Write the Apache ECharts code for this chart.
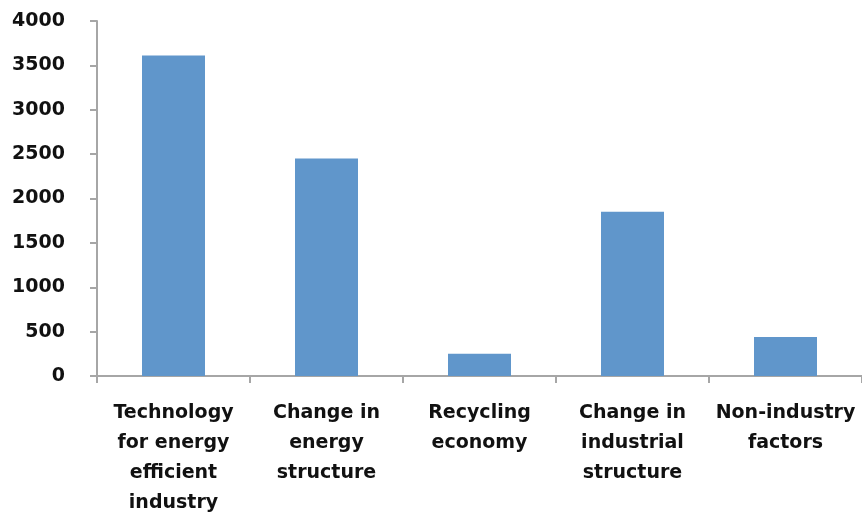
<!DOCTYPE html>
<html>
<head>
<meta charset="utf-8">
<script src="https://cdn.jsdelivr.net/npm/echarts@6/dist/echarts.min.js"></script>
<style>
html,body{margin:0;padding:0;background:#fff;}
#chart{width:862px;height:521px;}
</style>
</head>
<body>
<div id="chart"></div>
<script>
const categories = [
  "Technology\nfor energy\nefficient\nindustry",
  "Change in\nenergy\nstructure",
  "Recycling\neconomy",
  "Change in\nindustrial\nstructure",
  "Non-industry\nfactors"
];
const values = [3610, 2450, 250, 1850, 440];
const yTicks = { min: 0, max: 4000, interval: 500 };

const chart = echarts.init(document.getElementById('chart'));
const axisColor = '#a6a6a6';
const font = 'DejaVu Sans';
chart.setOption({
  animation: false,
  grid: { left: 97, right: -3, top: 21, bottom: 145 },
  xAxis: {
    type: 'category',
    data: categories,
    axisLine: { lineStyle: { color: axisColor, width: 2 } },
    axisTick: { show: true, length: 7, lineStyle: { color: axisColor, width: 2 } },
    axisLabel: {
      color: '#111', fontFamily: font, fontWeight: 'bold', fontSize: 19,
      lineHeight: 30, margin: 22, interval: 0, align: 'center'
    }
  },
  yAxis: {
    type: 'value',
    min: yTicks.min, max: yTicks.max, interval: yTicks.interval,
    axisLine: { show: true, lineStyle: { color: axisColor, width: 2 } },
    axisTick: { show: true, length: 7, lineStyle: { color: axisColor, width: 2 } },
    splitLine: { show: false },
    axisLabel: {
      color: '#111', fontFamily: font, fontWeight: 'bold', fontSize: 19, margin: 32,
      formatter: function (v) { return String(v); }
    }
  },
  series: [{
    type: 'bar',
    data: values,
    barWidth: 63,
    itemStyle: { color: '#6096CB' }
  }]
});
</script>
</body>
</html>
